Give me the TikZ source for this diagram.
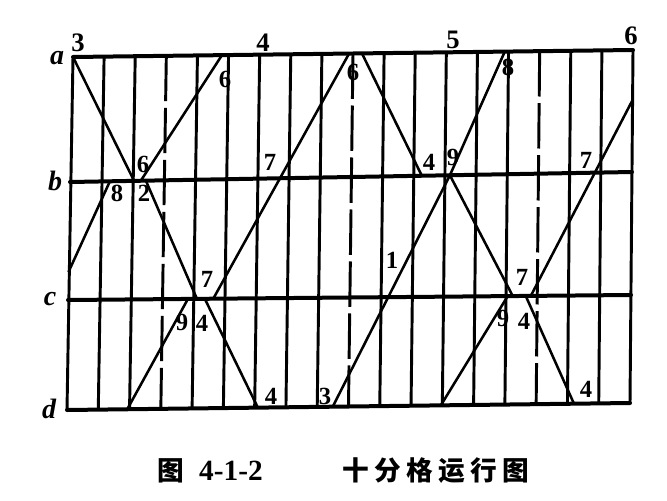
\documentclass[tikz,border=0pt]{standalone}
\usepackage{fontspec}
\setmainfont{Liberation Serif}
\newfontfamily\cjk{Noto Sans CJK SC}
\usetikzlibrary{calc}
\begin{document}
\begin{tikzpicture}[x=0.75pt,y=-0.75pt,
  station/.style={line width=3pt, line cap=round},
  gridline/.style={line width=2.2pt},
  halfhour/.style={line width=2.2pt, dash pattern=on 34pt off 5pt},
  train/.style={line width=1.9pt, line join=round},
  num/.style={font=\fontsize{18.5}{18.5}\selectfont\bfseries, inner sep=0pt},
  hour/.style={font=\fontsize{20}{20}\selectfont\bfseries, inner sep=0pt},
  stn/.style={font=\fontsize{21}{21}\selectfont\bfseries\itshape, inner sep=0pt},
  captxt/.style={font=\fontsize{20}{20}\selectfont\bfseries, inner sep=0pt, anchor=base}]
\fill[white] (0,0) rectangle (667,500);
\useasboundingbox (0,0) rectangle (667,500);

% station line ends
\coordinate (aL) at (73,57);  \coordinate (aR) at (633,50);
\coordinate (bL) at (70,182); \coordinate (bR) at (632,172);
\coordinate (cL) at (68,300); \coordinate (cR) at (631,295);
\coordinate (dL) at (67,410); \coordinate (dR) at (630,403);

% ten-minute grid
\foreach \k in {0,1,2,4,5,6,7,8,10,11,12,13,14,16,17,18}
  \draw[gridline] ($(aL)!\k/18!(aR)$) -- ($(dL)!\k/18!(dR)$);
\foreach \k in {3,9,15}
  \draw[halfhour] ($(aL)!\k/18!(aR)$) -- ($(dL)!\k/18!(dR)$);

% stations
\draw[station] (aL) -- (aR);
\draw[station] (bL) -- (bR);
\draw[station] (cL) -- (cR);
\draw[station] (dL) -- (dR);

% train points
\coordinate (D1a)  at (aL);
\coordinate (D1bi) at ($(bL)!0.114!(bR)$);
\coordinate (D1bo) at ($(bL)!0.135!(bR)$);
\coordinate (D1ci) at ($(cL)!0.229!(cR)$);
\coordinate (D1co) at ($(cL)!0.243!(cR)$);
\coordinate (D1d)  at ($(dL)!0.339!(dR)$);

\coordinate (U1s)  at ($(bL)!0.763!(cL)$);
\coordinate (U1bi) at ($(bL)!0.071!(bR)$);
\coordinate (U1bo) at ($(bL)!0.126!(bR)$);
\coordinate (U1a)  at ($(aL)!0.266!(aR)$);

\coordinate (U2d)  at ($(dL)!0.107!(dR)$);
\coordinate (U2ci) at ($(cL)!0.213!(cR)$);
\coordinate (U2co) at ($(cL)!0.258!(cR)$);
\coordinate (U2a)  at ($(aL)!0.493!(aR)$);

\coordinate (D2a)  at ($(aL)!0.516!(aR)$);
\coordinate (D2bi) at ($(bL)!0.626!(bR)$);
\coordinate (D2bo) at ($(bL)!0.676!(bR)$);
\coordinate (D2ci) at ($(cL)!0.790!(cR)$);
\coordinate (D2co) at ($(cL)!0.813!(cR)$);
\coordinate (D2d)  at ($(dL)!0.9005!(dR)$);

\coordinate (U4d)  at ($(dL)!0.472!(dR)$);
\coordinate (U4a)  at ($(aL)!0.771!(aR)$);

\coordinate (U3d)  at ($(dL)!0.664!(dR)$);
\coordinate (U3ci) at ($(cL)!0.781!(cR)$);
\coordinate (U3co) at ($(cL)!0.822!(cR)$);
\coordinate (U3e)  at ($(aR)!0.41!(bR)$);

% train lines
\draw[train] (D1a) -- (D1bi) -- (D1bo) -- (D1ci) -- (D1co) -- (D1d);
\draw[train] (U1s) -- (U1bi) -- (U1bo) -- (U1a);
\draw[train] (U2d) -- (U2ci) -- (U2co) -- (U2a);
\draw[train] (D2a) -- (D2bi) -- (D2bo) -- (D2ci) -- (D2co) -- (D2d);
\draw[train] (U4d) -- (D2bo) -- (U4a);
\draw[train] (U3d) -- (U3ci) -- (U3co) -- (U3e);

% hour labels
\node[hour] (h3) at (78,43) {3};
\node[hour] (h4) at (263,43) {4};
\node[hour] (h5) at (453,40) {5};
\node[hour] (h6) at (631,36) {6};

% station labels
\node[stn] (la) at (57,58) {a};
\node[stn] (lb) at (55,181) {b};
\node[stn] (lc) at (50,299) {c};
\node[stn] (ld) at (49,409) {d};

% minute labels
\node[num] (m1)  at (225,79)  {6};
\node[num] (m2)  at (143,164) {6};
\node[num] (m3)  at (117,193) {8};
\node[num] (m4)  at (144,193) {2};
\node[num] (m5)  at (270,162) {7};
\node[num] (m6)  at (207,279) {7};
\node[num] (m7)  at (182,322) {9};
\node[num] (m8)  at (202,323) {4};
\node[num] (m9)  at (271,396) {4};
\node[num] (m10) at (325,396) {3};
\node[num] (m11) at (353,72)  {6};
\node[num] (m12) at (429,162) {4};
\node[num] (m13) at (453,157) {9};
\node[num] (m14) at (508,67)  {8};
\node[num] (m15) at (392,260) {1};
\node[num] (m16) at (586,160) {7};
\node[num] (m17) at (522,277) {7};
\node[num] (m18) at (503,318) {9};
\node[num] (m19) at (524,321) {4};
\node[num] (m20) at (586,389) {4};

% caption
\node[captxt] (capfig) at (171,480) {\cjk 图};
\node[captxt, font=\fontsize{22}{22}\selectfont\bfseries] (capnum) at (231,480) {4-1-2};
\node[captxt] (captitle) at (436,480) {\cjk 十\hspace{4pt}分\hspace{4pt}格\hspace{4pt}运\hspace{4pt}行\hspace{4pt}图};
\end{tikzpicture}
\end{document}
